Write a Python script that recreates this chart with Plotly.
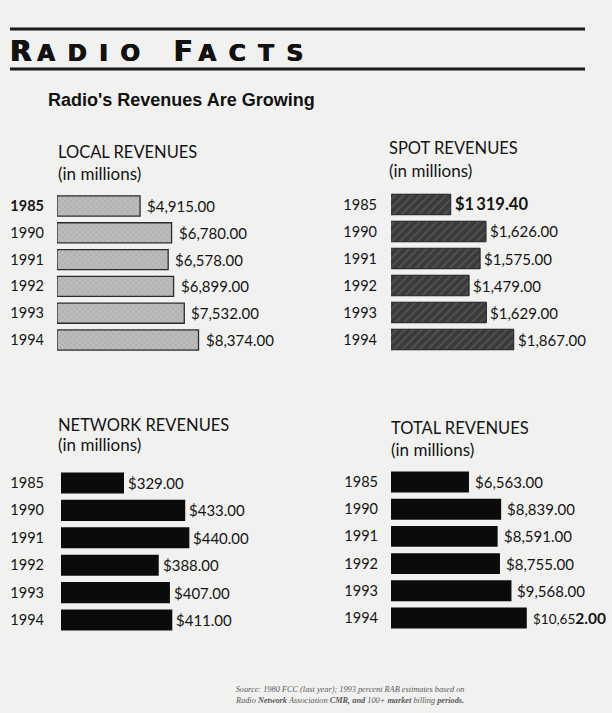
import plotly.graph_objects as go

# ---------------- data ----------------
years = ["1985", "1990", "1991", "1992", "1993", "1994"]
local_rev = [4915.00, 6780.00, 6578.00, 6899.00, 7532.00, 8374.00]
spot_rev = [1319.40, 1626.00, 1575.00, 1479.00, 1629.00, 1867.00]
network_rev = [329.00, 433.00, 440.00, 388.00, 407.00, 411.00]
total_rev = [6563.00, 8839.00, 8591.00, 8755.00, 9568.00, 10652.00]

panel_titles = ["LOCAL REVENUES", "SPOT REVENUES", "NETWORK REVENUES", "TOTAL REVENUES"]
unit_label = "(in millions)"
subtitle = "Radio's Revenues Are Growing"
source_lines = [
    "<i>Source: 1980 FCC (last year); 1993 percent RAB estimates based on</i>",
    "<i>Radio <b>Network</b> Association <b>CMR, and</b> 100+ <b>market</b> billing <b>periods.</b></i>",
]

# ---------------- layout helpers ----------------
W, H = 612, 713
def fx(p):
    return p / W
def fy(p):
    return 1 - p / H

BG = "#f1f1ef"
INK = "#141414"
FONT = "Lato"

fig = go.Figure()

panels = [
    dict(vals=local_rev, x0=57, x1=262, y0=192.6, y1=353.4, rmin=0, rmax=12130,
         marker=dict(color="#b4b4b4",
                     pattern=dict(shape="x", fgcolor="#8a8a8a", bgcolor="#bcbcbc", size=4, solidity=0.25),
                     line=dict(color="#2a2a2a", width=1.3)),
         gap=5, stand=12, tx=56, ty1=152, ty2=173, bargap=0.25),
    dict(vals=spot_rev, x0=391, x1=600, y0=191, y1=353, rmin=800, rmax=2617,
         marker=dict(color="#3c3c3c",
                     pattern=dict(shape="/", fgcolor="#6e6e6e", bgcolor="#3a3a3a", size=6, solidity=0.3),
                     line=dict(color="#202020", width=1)),
         gap=2, stand=13, tx=387, ty1=148, ty2=170, bargap=0.24),
    dict(vals=network_rev, x0=61, x1=260, y0=469.3, y1=633.7, rmin=222, rmax=560,
         marker=dict(color="#0b0b0b", line=dict(width=0)),
         gap=2, stand=16, tx=56, ty1=425, ty2=444, bargap=0.23),
    dict(vals=total_rev, x0=391, x1=600, y0=468.4, y1=631.6, rmin=1049, rmax=15830,
         marker=dict(color="#0b0b0b", line=dict(width=0)),
         gap=4, stand=12, tx=389, ty1=428, ty2=449, bargap=0.23),
]

annotations = []
for i, p in enumerate(panels):
    k = "" if i == 0 else str(i + 1)
    xa, ya = "x" + k, "y" + k
    fig.add_trace(go.Bar(
        x=p["vals"], y=years, orientation="h", xaxis=xa, yaxis=ya,
        marker=p["marker"], showlegend=False, hoverinfo="skip", width=1 - p["bargap"],
    ))
    tick_text = [("<b>%s</b>" % y if (i == 0 and j == 0) else y) for j, y in enumerate(years)]
    fig.update_layout({
        "xaxis" + k: dict(domain=[fx(p["x0"]), fx(p["x1"])], range=[p["rmin"], p["rmax"]],
                           anchor=ya, showgrid=False, zeroline=False, showline=False,
                           showticklabels=False, ticks="", fixedrange=True),
        "yaxis" + k: dict(domain=[fy(p["y1"]), fy(p["y0"])], anchor=xa, type="category",
                           categoryorder="array", categoryarray=years,
                           range=[len(years) - 0.5, -0.5],
                           showgrid=False, zeroline=False, showline=False, ticks="",
                           tickmode="array", tickvals=years, ticktext=tick_text,
                           ticklabelstandoff=p["stand"],
                           tickfont=dict(family=FONT, size=14.5, color=INK), fixedrange=True),
    })
    for j, v in enumerate(p["vals"]):
        label = "${:,.2f}".format(v)
        size = 15
        if i == 1 and j == 0:
            label = "<b>" + label.replace(",", "\u2009") + "</b>"
            size = 16.5
        if i == 3 and j == len(years) - 1:
            label = label[:-4] + "<span style='font-size:15.5px'><b>" + label[-4:] + "</b></span>"
            size = 13.5
        annotations.append(dict(
            x=v, y=j, xref=xa, yref=ya, text=label, showarrow=False,
            xanchor="left", yanchor="middle", xshift=p["gap"],
            font=dict(family=FONT, size=size, color=INK),
        ))
    annotations.append(dict(x=fx(p["tx"]), y=fy(p["ty1"]), xref="paper", yref="paper",
                            text=panel_titles[i], showarrow=False, xanchor="left", yanchor="middle",
                            font=dict(family=FONT, size=16.5, color=INK)))
    annotations.append(dict(x=fx(p["tx"]), y=fy(p["ty2"]), xref="paper", yref="paper",
                            text=unit_label, showarrow=False, xanchor="left", yanchor="middle",
                            font=dict(family=FONT, size=17, color=INK)))

S = "font-size:23px"
title_html = ("R\u2009<span style='%s'>A\u2009 D\u2009 I\u2009 O</span>\u2003\u2009F\u2009<span style='%s'>A\u2009 C\u2009 T\u2009 S</span>" % (S, S))
annotations.append(dict(x=fx(8), y=fy(70), xref="paper", yref="paper", text=title_html,
                        showarrow=False, xanchor="left", yanchor="bottom",
                        font=dict(family="DejaVu Sans", size=28, color="#111", weight="bold",
                                  shadow="0.7px 0 0 #111, -0.4px 0 0 #111")))
annotations.append(dict(x=fx(46), y=fy(100), xref="paper", yref="paper", text="<b>" + subtitle + "</b>",
                        showarrow=False, xanchor="left", yanchor="middle",
                        font=dict(family="Liberation Sans", size=18, color="#111")))
annotations.append(dict(x=fx(350), y=fy(695), xref="paper", yref="paper",
                        text="<br>".join(source_lines), showarrow=False, xanchor="center",
                        yanchor="middle", align="center",
                        font=dict(family="Liberation Serif", size=8.3, color="#5a5a5a")))

shapes = [
    dict(type="line", xref="paper", yref="paper", x0=fx(10), x1=fx(585), y0=fy(29), y1=fy(29),
         line=dict(color="#1a1a1a", width=3)),
    dict(type="line", xref="paper", yref="paper", x0=fx(10), x1=fx(585), y0=fy(69), y1=fy(69),
         line=dict(color="#1a1a1a", width=3)),
]

fig.update_layout(
    width=W, height=H, margin=dict(l=0, r=0, t=0, b=0),
    paper_bgcolor=BG, plot_bgcolor="rgba(0,0,0,0)",
    annotations=annotations, shapes=shapes, barmode="overlay",
    font=dict(family=FONT, color=INK),
)

fig.write_html("out.html", config={"displayModeBar": False},
               post_script="document.body.style.margin='0';")
